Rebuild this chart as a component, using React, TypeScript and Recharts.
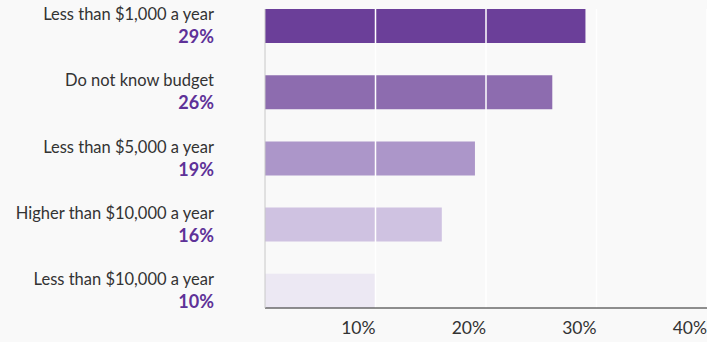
import React from "react";
import { BarChart, Bar, XAxis, YAxis, CartesianGrid, Cell, ReferenceLine } from "recharts";

const categories = [
  "Less than $1,000 a year",
  "Do not know budget",
  "Less than $5,000 a year",
  "Higher than $10,000 a year",
  "Less than $10,000 a year",
];
const values = [29, 26, 19, 16, 10];
const xTicks = [10, 20, 30, 40];
const barColors = ["#6b3f99", "#8d6caf", "#ac96c9", "#cfc2e1", "#ece8f3"];

const data = categories.map((name, i) => ({ name, value: values[i] }));

const FONT = "Lato, 'Noto Sans', sans-serif";

const YTick = (props: any) => {
  const { x, y, payload } = props;
  const idx = categories.indexOf(payload.value);
  return (
    <g>
      <text x={x} y={y - 6} textAnchor="end" fontFamily={FONT} fontSize={16.5} fill="#333">
        {payload.value}
      </text>
      <text x={x} y={y + 17} textAnchor="end" fontFamily={FONT} fontSize={18} fontWeight={700} fill="#5e3198">
        {values[idx]}%
      </text>
    </g>
  );
};

const XTick = (props: any) => {
  const { x, y, payload } = props;
  return (
    <text x={x} y={y + 18} textAnchor="end" fontFamily={FONT} fontSize={17.5} fill="#333">
      {payload.value}%
    </text>
  );
};

export default function App() {
  return (
    <div style={{ position: "absolute", left: 0, top: 0, width: 707, height: 342, background: "#f9f9f9" }}>
      <BarChart
        width={707}
        height={342}
        data={data}
        layout="vertical"
        margin={{ top: 9, right: 0, bottom: 0, left: 0 }}
      >
        <XAxis
          type="number"
          domain={[0, 40]}
          ticks={xTicks}
          height={34}
          axisLine={{ stroke: "#222", strokeWidth: 1 }}
          tickLine={false}
          tick={<XTick />}
          interval={0}
        />
        <YAxis
          type="category"
          dataKey="name"
          width={265}
          axisLine={{ stroke: "#c8c8c8", strokeWidth: 1 }}
          tickLine={false}
          tickSize={0}
          tickMargin={51}
          tick={<YTick />}
          padding={{ top: -16, bottom: -16 }}
          interval={0}
        />
        <Bar dataKey="value" barSize={34} isAnimationActive={false}>
          {data.map((d, i) => (
            <Cell key={d.name} fill={barColors[i]} />
          ))}
        </Bar>
        {xTicks.map((t) => (
          <ReferenceLine key={t} x={t} stroke="#ffffff" strokeWidth={1.5} />
        ))}
      </BarChart>
    </div>
  );
}
